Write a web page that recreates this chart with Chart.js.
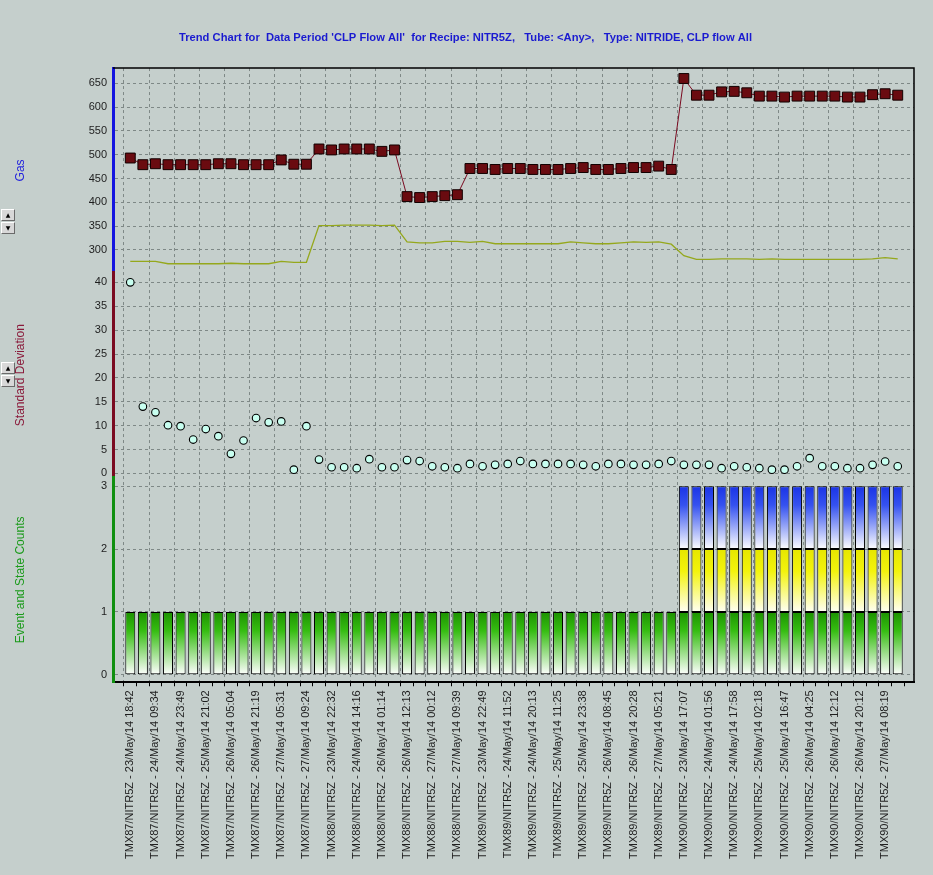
<!DOCTYPE html>
<html><head><meta charset="utf-8">
<script src="https://cdn.jsdelivr.net/npm/chart.js@4"></script>
<style>
html,body{margin:0;padding:0;background:#c5cfcc;}
#wrap{position:relative;width:933px;height:875px;overflow:hidden;}
canvas{display:block;}
.spin{position:absolute;left:1px;width:14px;}
.spin div{height:10px;margin-bottom:1px;border:1px solid #6a6a6a;border-top-color:#fff;border-left-color:#fff;background:#d8d8d8;font:6px "DejaVu Sans",sans-serif;line-height:10px;text-align:center;color:#000;}
</style></head>
<body><div id="wrap"><canvas id="c" width="933" height="875"></canvas>
<div class="spin" style="top:209px"><div>▲</div><div>▼</div></div>
<div class="spin" style="top:362px"><div>▲</div><div>▼</div></div>
</div>
<script>
const titleText = "Trend Chart for  Data Period 'CLP Flow All'  for Recipe: NITR5Z,   Tube: <Any>,   Type: NITRIDE, CLP flow All";

// x tick labels, one for every second run (index 0,2,4,...)
const xTickLabels = [
  'TMX87/NITR5Z - 23/May/14 18:42','TMX87/NITR5Z - 24/May/14 09:34','TMX87/NITR5Z - 24/May/14 23:49',
  'TMX87/NITR5Z - 25/May/14 21:02','TMX87/NITR5Z - 26/May/14 05:04','TMX87/NITR5Z - 26/May/14 21:19',
  'TMX87/NITR5Z - 27/May/14 05:31','TMX87/NITR5Z - 27/May/14 09:24',
  'TMX88/NITR5Z - 23/May/14 22:32','TMX88/NITR5Z - 24/May/14 14:16','TMX88/NITR5Z - 26/May/14 01:14',
  'TMX88/NITR5Z - 26/May/14 12:13','TMX88/NITR5Z - 27/May/14 00:12','TMX88/NITR5Z - 27/May/14 09:39',
  'TMX89/NITR5Z - 23/May/14 22:49','TMX89/NITR5Z - 24/May/14 11:52','TMX89/NITR5Z - 24/May/14 20:13',
  'TMX89/NITR5Z - 25/May/14 11:25','TMX89/NITR5Z - 25/May/14 23:38','TMX89/NITR5Z - 26/May/14 08:45',
  'TMX89/NITR5Z - 26/May/14 20:28','TMX89/NITR5Z - 27/May/14 05:21',
  'TMX90/NITR5Z - 23/May/14 17:07','TMX90/NITR5Z - 24/May/14 01:56','TMX90/NITR5Z - 24/May/14 17:58',
  'TMX90/NITR5Z - 25/May/14 02:18','TMX90/NITR5Z - 25/May/14 16:47','TMX90/NITR5Z - 26/May/14 04:25',
  'TMX90/NITR5Z - 26/May/14 12:12','TMX90/NITR5Z - 26/May/14 20:12','TMX90/NITR5Z - 27/May/14 08:19'
];

const gasMean = [
  493,479,481,479,479,479,479,481,481,479,479,479,489,480,480,
  512,510,512,512,512,507,510,412,410,412,414,416,
  471,471,469,471,471,469,469,469,471,473,469,469,471,473,473,476,469,
  660,625,625,632,633,630,623,623,621,623,623,623,623,621,621,626,628,625
];
const gasFlow = [
  276,276,276,271,271,271,271,271,272,271,271,271,276,274,274,
  351,351,352,352,352,351,352,317,315,315,318,318,
  316,318,313,313,313,313,313,313,317,315,313,313,315,317,316,317,312,
  288,280,280,281,281,281,280,281,280,280,280,280,280,280,280,281,284,281
];
const stdDev = [
  40.0,14.0,12.8,10.1,9.9,7.1,9.3,7.8,4.1,6.9,11.6,10.7,10.9,0.8,9.9,
  2.9,1.3,1.3,1.1,3.0,1.3,1.3,2.8,2.6,1.5,1.3,1.1,
  2.0,1.5,1.8,2.0,2.6,2.0,2.0,2.0,2.0,1.8,1.5,2.0,2.0,1.8,1.8,2.0,2.6,
  1.8,1.8,1.8,1.1,1.5,1.3,1.1,0.8,0.8,1.5,3.2,1.5,1.5,1.1,1.1,1.8,2.5,1.5
];
const countLevel1 = [
  1,1,1,1,1,1,1,1,1,1,1,1,1,1,1,1,1,1,1,1,1,1,1,1,1,1,1,1,1,1,1,
  1,1,1,1,1,1,1,1,1,1,1,1,1,1,1,1,1,1,1,1,1,1,1,1,1,1,1,1,1,1,1
];
const countLevel2 = [
  0,0,0,0,0,0,0,0,0,0,0,0,0,0,0,0,0,0,0,0,0,0,0,0,0,0,0,0,0,0,0,0,0,0,0,0,0,0,0,0,0,0,0,0,
  1,1,1,1,1,1,1,1,1,1,1,1,1,1,1,1,1,1
];
const countLevel3 = [
  0,0,0,0,0,0,0,0,0,0,0,0,0,0,0,0,0,0,0,0,0,0,0,0,0,0,0,0,0,0,0,0,0,0,0,0,0,0,0,0,0,0,0,0,
  1,1,1,1,1,1,1,1,1,1,1,1,1,1,1,1,1,1
];

const gasTicks = [300,350,400,450,500,550,600,650];
const stdTicks = [0,5,10,15,20,25,30,35,40];
const countTicks = [0,1,2,3];

const pts = arr => arr.map((v, i) => ({x: i, y: v === 0 ? null : v}));
const ptsRaw = arr => arr.map((v, i) => ({x: i, y: v}));

Chart.defaults.font.family = '"Liberation Sans", Arial, sans-serif';
Chart.defaults.font.size = 11;
Chart.defaults.color = '#1e1e1e';

function grad(chart, lo, hi, stops) {
  const {ctx, chartArea, scales} = chart;
  if (!chartArea || !scales.yCnt) return stops[0][1];
  const yTop = scales.yCnt.getPixelForValue(hi);
  const yBot = scales.yCnt.getPixelForValue(lo);
  const g = ctx.createLinearGradient(0, yTop, 0, yBot);
  stops.forEach(s => g.addColorStop(s[0], s[1]));
  return g;
}
const greenStops = [[0,'#1c9200'],[0.3,'#36bd12'],[1,'#ffffff']];
const yellowStops = [[0,'#e6e600'],[0.35,'#f3f30c'],[1,'#fffff4']];
const blueStops = [[0,'#1a34e6'],[0.3,'#3552f0'],[1,'#ffffff']];

const gridCol = '#7e8886';
const frame = {
  id: 'frame',
  afterDatasetsDraw(chart) {
    const {ctx, chartArea: a} = chart;
    ctx.save();
    ctx.strokeStyle = '#000';
    ctx.lineWidth = 1.5;
    ctx.beginPath();
    ctx.moveTo(a.left, a.top);
    ctx.lineTo(a.right, a.top);
    ctx.lineTo(a.right, a.bottom);
    ctx.stroke();
    ctx.restore();
  }
};

const yCommon = (ticksArr) => ({
  type: 'linear', position: 'left', stack: 'panels', stackWeight: 1,
  afterBuildTicks: s => { s.ticks = ticksArr.map(v => ({value: v})); },
  afterFit: s => { s.width = 113; },
  ticks: {padding: 6, color: '#1e1e1e', font: {size: 11}},
  grid: {color: gridCol, drawTicks: false, lineWidth: 1}
});

new Chart(document.getElementById('c'), {
  type: 'bar',
  data: {
    datasets: [
      {type: 'line', label: 'Gas mean', xAxisID: 'x', yAxisID: 'yGas', data: ptsRaw(gasMean),
       borderColor: '#7a0a20', borderWidth: 1, tension: 0,
       pointStyle: 'rect', pointRadius: 7, pointBackgroundColor: '#6a0b10', pointBorderColor: '#120000', pointBorderWidth: 1},
      {type: 'line', label: 'Gas flow', xAxisID: 'x', yAxisID: 'yGas', data: ptsRaw(gasFlow),
       borderColor: '#95a81c', borderWidth: 1.3, pointRadius: 0, tension: 0},
      {type: 'line', label: 'Standard Deviation', xAxisID: 'x', yAxisID: 'yStd', data: ptsRaw(stdDev),
       showLine: false, pointStyle: 'circle', pointRadius: 3.8, pointBackgroundColor: '#c8fff0', pointBorderColor: '#000', pointBorderWidth: 1.1},
      {type: 'bar', label: 'Count 1', xAxisID: 'x', yAxisID: 'yCnt', stack: 'cnt', data: pts(countLevel1),
       backgroundColor: c => grad(c.chart, 0, 1, greenStops), borderColor: '#000', borderWidth: 1, borderSkipped: false,
       barPercentage: 0.86, categoryPercentage: 0.92},
      {type: 'bar', label: 'Count 2', xAxisID: 'x', yAxisID: 'yCnt', stack: 'cnt', data: pts(countLevel2),
       backgroundColor: c => grad(c.chart, 1, 2, yellowStops), borderColor: '#000', borderWidth: 1, borderSkipped: false,
       barPercentage: 0.86, categoryPercentage: 0.92},
      {type: 'bar', label: 'Count 3', xAxisID: 'x', yAxisID: 'yCnt', stack: 'cnt', data: pts(countLevel3),
       backgroundColor: c => grad(c.chart, 2, 3, blueStops), borderColor: '#000', borderWidth: 1, borderSkipped: false,
       barPercentage: 0.86, categoryPercentage: 0.92}
    ]
  },
  options: {
    responsive: false,
    animation: false,
    layout: {padding: {left: 0, right: 2, top: 0, bottom: 12}},
    plugins: {
      legend: {display: false},
      tooltip: {enabled: false},
      title: {display: true, text: titleText, color: '#1a1ad0',
        font: {family: '"Liberation Sans Narrow", "Arial Narrow", "Liberation Sans", sans-serif', size: 11.2, weight: 'bold'},
        padding: {top: 31.3, bottom: 23.3}}
    },
    scales: {
      x: {
        type: 'linear', min: -0.86, max: 61.78, stacked: true,
        afterBuildTicks: s => { s.ticks = gasMean.map((_, i) => ({value: i})); },
        ticks: {autoSkip: false, minRotation: 90, maxRotation: 90, padding: 4, color: '#1e1e1e', font: {size: 11},
          callback: (v) => (v % 2 === 0 ? xTickLabels[v / 2] : '')},
        grid: {color: c => (c.tick && c.tick.value % 2 === 0) ? gridCol : 'rgba(0,0,0,0)',
          tickColor: '#000', tickLength: 4, tickBorderDash: [], lineWidth: 1},
        border: {color: '#000', width: 2, dash: [3, 3]}
      },
      yGas: Object.assign(yCommon(gasTicks), {min: 252, max: 682, weight: 3,
        title: {display: true, text: 'Gas', color: '#2424dd', font: {size: 12}, padding: {top: 13, bottom: 0}},
        border: {color: '#1414e0', width: 3, dash: [3, 3]}}),
      yStd: Object.assign(yCommon(stdTicks), {min: -0.85, max: 42, weight: 2,
        title: {display: true, text: 'Standard Deviation', color: '#8a1a3a', font: {size: 12}, padding: {top: 13, bottom: 0}},
        border: {color: '#7a0a20', width: 3, dash: [3, 3]}}),
      yCnt: Object.assign(yCommon(countTicks), {min: -0.12, max: 3.14, weight: 1, stacked: true,
        title: {display: true, text: 'Event and State Counts', color: '#1a9a1a', font: {size: 12}, padding: {top: 13, bottom: 0}},
        border: {color: '#109010', width: 3, dash: [3, 3]}}),
      yPad: {type: 'linear', position: 'right', display: true,
        ticks: {display: false}, grid: {display: false, drawTicks: false}, border: {display: false},
        afterFit: s => { s.width = 17; }}
    }
  },
  plugins: [frame]
});
</script>
</body></html>
